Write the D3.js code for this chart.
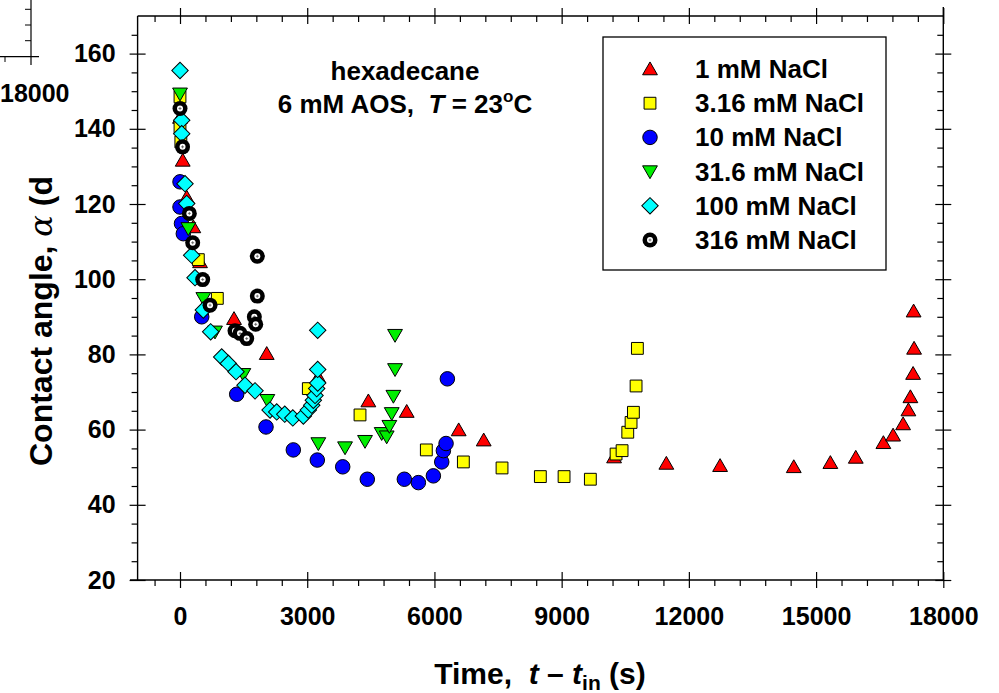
<!DOCTYPE html>
<html>
<head>
<meta charset="utf-8">
<script src="https://cdn.jsdelivr.net/npm/d3@7"></script>
<style>
  html, body { margin: 0; padding: 0; background: #fff; }
  svg { display: block; }
  text { font-family: "Liberation Sans", Arial, Helvetica, sans-serif; font-weight: bold; fill: #000; white-space: pre; }
</style>
</head>
<body>
<svg id="chart" width="999" height="693"></svg>
<script>
// Contact angle of hexadecane drops vs. time for several NaCl concentrations
const xTicks = [0, 3000, 6000, 9000, 12000, 15000, 18000];
const yTicks = [20, 40, 60, 80, 100, 120, 140, 160];

const seriesNames = ["1 mM NaCl", "3.16 mM NaCl", "10 mM NaCl", "31.6 mM NaCl", "100 mM NaCl", "316 mM NaCl"];

// time (s), contact angle (deg)
const nacl1_t = [0, 64, 158, 314, 472, 1274, 2045, 3262, 4442, 5346, 6572, 7162, 10236, 11469, 12736, 14474, 15337, 15936, 16587, 16816, 17052, 17177, 17224, 17288, 17311, 17300];
const nacl1_a = [143, 131.6, 121.8, 113.9, 104.6, 89.5, 80.2, 74.0, 67.6, 64.8, 59.9, 57.2, 52.7, 51.0, 50.4, 50.1, 51.2, 52.6, 56.5, 58.5, 61.5, 65.2, 68.7, 74.9, 81.6, 91.5];

const nacl316m_t = [0, 0, 20, 432, 880, 3026, 4245, 5809, 6682, 7594, 8498, 9057, 9677, 10283, 10425, 10559, 10637, 10692, 10755, 10786];
const nacl316m_a = [148.5, 140.5, 136.5, 105.2, 94.9, 70.9, 63.9, 54.6, 51.4, 49.8, 47.5, 47.5, 46.8, 53.5, 54.4, 59.3, 61.9, 64.6, 71.6, 81.6];

const nacl10_t = [0, 0, 35, 78, 512, 1337, 2028, 2672, 3238, 3837, 4417, 5290, 5621, 5975, 6172, 6211, 6274, 6305];
const nacl10_a = [125.9, 119.2, 114.8, 112.1, 90.0, 69.4, 60.7, 54.6, 51.9, 50.1, 46.8, 46.8, 45.9, 47.7, 51.4, 54.4, 56.3, 73.5];

const nacl31_t = [0, 196, 550, 825, 1494, 2060, 3262, 3892, 4363, 4756, 4874, 4937, 4993, 5032, 5071, 5071];
const nacl31_a = [149.3, 113.5, 94.9, 86.0, 74.7, 67.8, 56.3, 55.2, 56.9, 59.0, 58.1, 60.9, 64.3, 68.9, 76.0, 85.1];

const nacl100_t = [0, 40, 40, 118, 158, 275, 354, 550, 723, 983, 1140, 1321, 1533, 1769, 2123, 2280, 2470, 2660, 2909, 3026, 3106, 3144, 3184, 3223, 3247, 3247, 3247];
const nacl100_a = [155.5, 142.3, 138.7, 125.4, 120.1, 106.4, 100.4, 91.8, 86.0, 79.3, 77.6, 75.4, 71.8, 70.3, 65.2, 64.7, 64.1, 63.1, 63.6, 65.2, 66.5, 67.8, 69.1, 70.9, 72.4, 76.0, 86.4];

const nacl316_t = [0, 60, 220, 299, 535, 708, 1297, 1415, 1573, 1753, 1785, 1823, 1823];
const nacl316_a = [145.4, 135.2, 117.5, 109.7, 99.9, 93.1, 86.3, 85.6, 84.2, 90.0, 88.0, 95.5, 106.1];

const svg = d3.select("#chart");

const x = d3.scaleLinear().domain([-1000, 18000]).range([137.6, 943.3]);
const y = d3.scaleLinear().domain([20, 170]).range([580, 16]);

const xMinor = d3.range(-600, 18001, 600).filter(v => v % 3000 !== 0);
const yMinor = d3.range(25, 170, 5).filter(v => v % 20 !== 0);

// --- y-axis title, its end covered by the corner of a neighbouring panel ---
const titleBase = 466;
const clipRect = svg.append("defs").append("clipPath").attr("id", "titleClip")
  .append("rect").attr("x", 0).attr("width", 130);

const yTitle = svg.append("g").attr("clip-path", "url(#titleClip)")
  .append("text")
  .attr("transform", `translate(52,${titleBase}) rotate(-90)`)
  .attr("font-size", 32)
  .call(t => {
    t.append("tspan").text("Contact angle, ");
    t.append("tspan").attr("font-style", "italic").attr("font-family", "DejaVu Serif, serif").attr("font-weight", "normal").text("α");
    t.append("tspan").text(" (deg)");
  });
// panel edge falls just after the "d" of "(deg)"
const shown = yTitle.node().getSubStringLength(0, 19);
clipRect.attr("y", titleBase - shown - 1).attr("height", 693);

const corner = svg.append("g");
corner.append("line").attr("x1", 0).attr("x2", 39).attr("y1", 56.7).attr("y2", 56.7).attr("stroke", "#000").attr("stroke-width", 1.2);
corner.append("line").attr("x1", 31).attr("x2", 31).attr("y1", 0).attr("y2", 65).attr("stroke", "#000").attr("stroke-width", 1.2);
corner.selectAll(".cm").data([9.3, 25, 40.7]).join("line")
  .attr("x1", 25).attr("x2", 31).attr("y1", d => d).attr("y2", d => d).attr("stroke", "#000");
corner.append("line").attr("x1", 5).attr("x2", 5).attr("y1", 56.7).attr("y2", 62).attr("stroke", "#000");
corner.append("text").attr("x", 0).attr("y", 102).attr("font-size", 25).text("18000");

// --- axes ---
const axes = svg.append("g");
function tidy(g) { g.select(".domain").remove(); g.selectAll("line").attr("stroke", "#000").attr("stroke-width", 1.2); }

// frame lines
axes.append("line").attr("x1", 130).attr("x2", 943.3).attr("y1", 580).attr("y2", 580).attr("stroke", "#000").attr("stroke-width", 1.4);
axes.append("line").attr("x1", 137.6).attr("x2", 943.3).attr("y1", 16).attr("y2", 16).attr("stroke", "#000").attr("stroke-width", 1.4);
axes.append("line").attr("x1", 137.6).attr("x2", 137.6).attr("y1", 16).attr("y2", 580).attr("stroke", "#000").attr("stroke-width", 1.4);
axes.append("line").attr("x1", 943.3).attr("x2", 943.3).attr("y1", 7).attr("y2", 580).attr("stroke", "#000").attr("stroke-width", 1.4);

// bottom
axes.append("g").attr("transform", "translate(0,588)")
  .call(d3.axisBottom(x).tickValues(xTicks).tickSize(-16).tickFormat(""))
  .call(tidy);
axes.append("g").attr("transform", "translate(0,580)")
  .call(d3.axisBottom(x).tickValues(xMinor).tickSize(6).tickFormat(""))
  .call(tidy);
axes.append("g").attr("transform", "translate(0,580)")
  .call(d3.axisBottom(x).tickValues(xTicks).tickSize(0).tickPadding(40).tickFormat(d3.format("d")))
  .call(g => { g.select(".domain").remove(); g.selectAll("text").attr("font-size", 25).attr("font-family", null).attr("dy", "0.2em"); });

// top
axes.append("g").attr("transform", "translate(0,24)")
  .call(d3.axisBottom(x).tickValues(xTicks).tickSize(-16).tickFormat(""))
  .call(tidy);
axes.append("g").attr("transform", "translate(0,16)")
  .call(d3.axisBottom(x).tickValues(xMinor).tickSize(6).tickFormat(""))
  .call(tidy);

// left
axes.append("g").attr("transform", "translate(129.6,0)")
  .call(d3.axisRight(y).tickValues(yTicks).tickSize(16).tickFormat(""))
  .call(tidy);
axes.append("g").attr("transform", "translate(137.6,0)")
  .call(d3.axisLeft(y).tickValues(yMinor).tickSize(6).tickFormat(""))
  .call(tidy);
axes.append("g").attr("transform", "translate(137.6,0)")
  .call(d3.axisLeft(y).tickValues(yTicks).tickSize(0).tickPadding(22).tickFormat(d3.format("d")))
  .call(g => { g.select(".domain").remove(); g.selectAll("text").attr("font-size", 25).attr("font-family", null); });

// right
axes.append("g").attr("transform", "translate(935.3,0)")
  .call(d3.axisRight(y).tickValues(yTicks).tickSize(16).tickFormat(""))
  .call(tidy);
axes.append("g").attr("transform", "translate(943.3,0)")
  .call(d3.axisLeft(y).tickValues(yMinor).tickSize(6).tickFormat(""))
  .call(tidy);

// x-axis title
svg.append("text").attr("x", 540).attr("y", 684).attr("text-anchor", "middle").attr("font-size", 30)
  .call(t => {
    t.append("tspan").text("Time,  ");
    t.append("tspan").attr("font-style", "italic").text("t");
    t.append("tspan").text(" \u2013 ");
    t.append("tspan").attr("font-style", "italic").text("t");
    t.append("tspan").attr("font-size", 21).attr("dy", 6).text("in");
    t.append("tspan").attr("dy", -6).text(" (s)");
  });

// annotation
svg.append("text").attr("x", 405).attr("y", 80).attr("text-anchor", "middle").attr("font-size", 26).text("hexadecane");
svg.append("text").attr("x", 405).attr("y", 113).attr("text-anchor", "middle").attr("font-size", 26)
  .call(t => {
    t.append("tspan").text("6 mM AOS,  ");
    t.append("tspan").attr("font-style", "italic").text("T");
    t.append("tspan").text(" = 23");
    t.append("tspan").attr("font-size", 17).attr("dy", -11).text("o");
    t.append("tspan").attr("dy", 11).text("C");
  });

// --- markers ---
const sym = {
  tri: d3.symbol().type(d3.symbolTriangle).size(95),
  sq: d3.symbol().type(d3.symbolSquare).size(140),
  circ: d3.symbol().type(d3.symbolCircle).size(165),
  diam: d3.symbol().type(d3.symbolSquare).size(135)
};

const series = [
  { name: seriesNames[0], t: nacl1_t, a: nacl1_a, kind: "tri", fill: "#ff0000" },
  { name: seriesNames[1], t: nacl316m_t, a: nacl316m_a, kind: "sq", fill: "#ffff00" },
  { name: seriesNames[2], t: nacl10_t, a: nacl10_a, kind: "circ", fill: "#0000ff" },
  { name: seriesNames[3], t: nacl31_t, a: nacl31_a, kind: "tridown", fill: "#00ee00" },
  { name: seriesNames[4], t: nacl100_t, a: nacl100_a, kind: "diam", fill: "#00ffff" },
  { name: seriesNames[5], t: nacl316_t, a: nacl316_a, kind: "ring", fill: "#000000" }
];

function drawMarker(g, kind, fill) {
  if (kind === "tri") {
    g.append("path").attr("d", sym.tri()).attr("transform", "translate(0,1.5)")
      .attr("fill", fill).attr("stroke", "#000").attr("stroke-width", 1);
  } else if (kind === "tridown") {
    g.append("path").attr("d", sym.tri()).attr("transform", "translate(0,-1.5) rotate(180)")
      .attr("fill", fill).attr("stroke", "#000").attr("stroke-width", 1);
  } else if (kind === "sq") {
    g.append("path").attr("d", sym.sq()).attr("fill", fill).attr("stroke", "#000").attr("stroke-width", 1);
  } else if (kind === "circ") {
    g.append("path").attr("d", sym.circ()).attr("fill", fill).attr("stroke", "#000").attr("stroke-width", 1);
  } else if (kind === "diam") {
    g.append("path").attr("d", sym.diam()).attr("transform", "rotate(45)")
      .attr("fill", fill).attr("stroke", "#000").attr("stroke-width", 1);
  } else if (kind === "ring") {
    g.append("circle").attr("r", 7.5).attr("fill", "#000");
    g.append("circle").attr("r", 3).attr("fill", "#fff");
    g.append("path").attr("d", "M-1.5,0H1.5M0,-1.5V1.5").attr("stroke", "#555").attr("stroke-width", 0.8);
  }
}

const plot = svg.append("g");
series.forEach(s => {
  const pts = s.t.map((t, i) => ({ t, a: s.a[i] }));
  plot.append("g").selectAll("g").data(pts).join("g")
    .attr("transform", d => `translate(${x(d.t)},${y(d.a)})`)
    .each(function () { drawMarker(d3.select(this), s.kind, s.fill); });
});

// --- legend ---
const legend = svg.append("g");
legend.append("rect").attr("x", 603).attr("y", 37).attr("width", 283).attr("height", 233)
  .attr("fill", "#fff").attr("stroke", "#000").attr("stroke-width", 1.3);
const ly = d3.scalePoint().domain(seriesNames).range([69, 240]);
series.forEach(s => {
  const g = legend.append("g").attr("transform", `translate(650,${ly(s.name)})`);
  drawMarker(g, s.kind, s.fill);
  legend.append("text").attr("x", 695).attr("y", ly(s.name) + 9).attr("font-size", 26).text(s.name);
});
</script>
</body>
</html>
